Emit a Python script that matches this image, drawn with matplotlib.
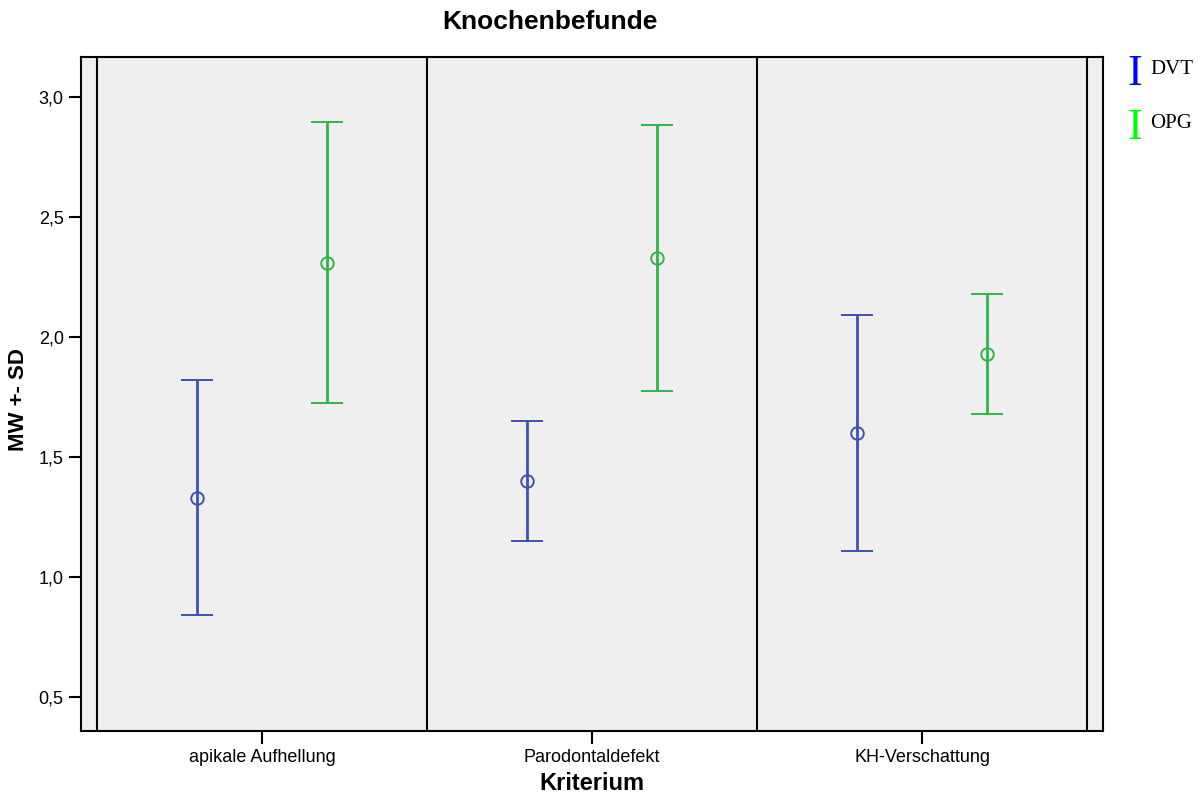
import matplotlib.pyplot as plt
from matplotlib.ticker import FuncFormatter

categories = ["apikale Aufhellung", "Parodontaldefekt", "KH-Verschattung"]
groups = ["DVT", "OPG"]
dvt_mean = [1.33, 1.40, 1.60]
dvt_sd = [0.49, 0.25, 0.49]
opg_mean = [2.31, 2.33, 1.93]
opg_sd = [0.585, 0.555, 0.25]
y_ticks = [0.5, 1.0, 1.5, 2.0, 2.5, 3.0]

plt.rcParams["font.family"] = ["Liberation Sans", "DejaVu Sans"]

W, H = 1204, 793
fig = plt.figure(figsize=(W / 100, H / 100), dpi=100)
ax = fig.add_axes([81 / W, 1 - 731 / H, (1103 - 81) / W, (731 - 57) / H])
ax.set_facecolor("#efefef")

xs = list(range(len(categories)))
off = 0.197
err_kw = dict(fmt="o", mfc="none", markersize=9, capsize=11.5, elinewidth=2.0,
              capthick=2.0, mew=1.4)
ax.errorbar([x - off for x in xs], dvt_mean, yerr=dvt_sd, color="#3f51b1", **err_kw)
ax.errorbar([x + off for x in xs], opg_mean, yerr=opg_sd, color="#2fb44a", **err_kw)

for x in xs + [xs[-1] + 1]:
    ax.axvline(x - 0.5, color="black", lw=1.5)

ax.set_xlim(-0.548, 2.548)
ax.set_ylim(0.358, 3.167)
ax.set_xticks(xs)
ax.set_xticklabels(categories, fontsize=13)
ax.set_yticks(y_ticks)
ax.yaxis.set_major_formatter(FuncFormatter(lambda v, p: f"{v:.1f}".replace(".", ",")))
ax.tick_params(axis="y", labelsize=13, length=9, width=1.5)
ax.tick_params(axis="x", length=9, width=1.5, pad=4)
for s in ax.spines.values():
    s.set_linewidth(1.5)

fig.text(592 / W, 1 - 783 / H, "Kriterium", ha="center", va="center",
         fontsize=17, fontweight="bold")
fig.text(19 / W, 1 - 400 / H, "MW +- SD", ha="center", va="center", rotation=90,
         fontsize=16, fontweight="bold")
fig.text(550 / W, 1 - 22 / H, "Knochenbefunde", ha="center", va="center",
         fontsize=19, fontweight="bold")

# legend drawn as text, as in the original
legend_colors = ["#0000ff", "#00ff00"]
for i, (g, c) in enumerate(zip(groups, legend_colors)):
    y = 1 - (74 + i * 54) / H
    fig.text(1135 / W, y, "I", color=c, fontsize=32, ha="center", va="center",
             family="Liberation Serif")
    fig.text(1150 / W, y + 5 / H, g, color="black", fontsize=15, ha="left",
             va="center", family="Liberation Serif")

fig.savefig("out.png", dpi=100)
